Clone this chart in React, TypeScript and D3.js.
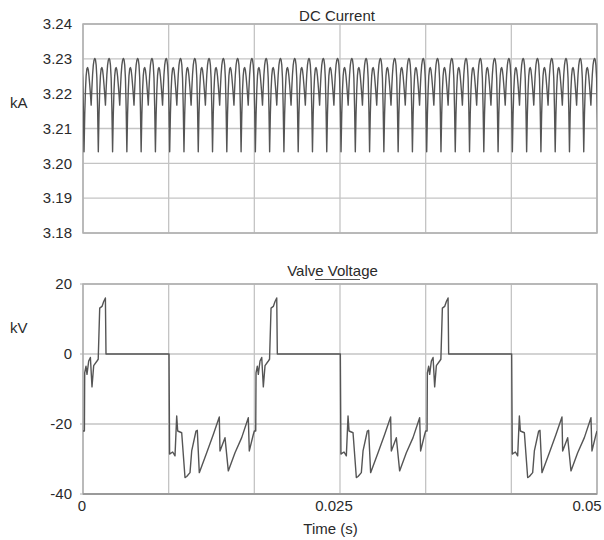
import React from "react";
import * as d3 from "d3";

// ---- Data ----
// DC current: one ripple cycle (12-pulse, 1/720 s), offset in ms from a deep dip, value in kA
const dcRippleMs = [0, 0.069, 0.139, 0.208, 0.278, 0.347, 0.417, 0.486, 0.556, 0.625, 0.694, 0.764, 0.833, 0.903, 0.972, 1.042, 1.111, 1.181, 1.25, 1.319, 1.389];
const dcRippleKA = [3.2033, 3.214, 3.221, 3.2252, 3.2271, 3.2275, 3.2268, 3.225, 3.2225, 3.2198, 3.2167, 3.2215, 3.2255, 3.2282, 3.2296, 3.2301, 3.2298, 3.2282, 3.2245, 3.216, 3.2033];
const dcRipplePeriodMs = 1000 / 720;
const dcFirstDipMs = 0.1;
const dcCycles = 37;

// Valve voltage: one fundamental cycle (1/60 s), offset in ms, value in kV
const valveCycleMs = [0, 0.136, 0.165, 0.292, 0.389, 0.554, 0.72, 0.875, 1.041, 1.362, 1.479, 1.625, 1.848, 2.014, 2.179, 2.237, 8.366, 8.424, 8.561, 8.726, 8.95, 9.115, 9.212, 9.601, 9.922, 10.088, 10.409, 10.574, 10.993, 11.119, 11.313, 12.033, 12.676, 13.259, 13.327, 13.813, 14.135, 14.786, 15.438, 16.08, 16.177, 16.567, 16.667];
const valveCycleKV = [-22, -22, -5.4, -3.5, -5.8, -2, -1, -9.4, -3.3, -2, -1.5, 13.1, 13.6, 15, 16, 0, 0, -28.6, -28.3, -28.0, -29.1, -17.7, -22, -22.5, -35.3, -35.0, -33.9, -27.7, -22, -21.8, -33.9, -28.2, -23, -18, -27.7, -23.9, -33.4, -28.2, -23.9, -18.2, -27.7, -23, -22];
const valvePeriodMs = 1000 / 60;
const valveCycles = 3;

const timeDomain = [0, 0.05];
const timeGridDivisions = 6;
const xTickValues = [0, 0.025, 0.05];
const xTickLabels = ["0", "0.025", "0.05"];

const dcDomain = [3.18, 3.24];
const dcTicks = [3.18, 3.19, 3.2, 3.21, 3.22, 3.23, 3.24];
const dcTickLabels = ["3.18", "3.19", "3.20", "3.21", "3.22", "3.23", "3.24"];

const vDomain = [-40, 20];
const vTicks = [-40, -20, 0, 20];
const vTickLabels = ["-40", "-20", "0", "20"];

const topTitle = "DC Current";
const bottomTitle = "Valve Voltage";
const topUnit = "kA";
const bottomUnit = "kV";
const xTitle = "Time (s)";

// ---- Build series ----
type Pt = [number, number];
const dcSeries: Pt[] = [];
for (let k = -1; k < dcCycles; k++) {
  dcRippleMs.forEach((ms, i) => {
    if (k > -1 && i === 0) return;
    dcSeries.push([(dcFirstDipMs + k * dcRipplePeriodMs + ms) / 1000, dcRippleKA[i]]);
  });
}
const valveSeries: Pt[] = [];
for (let c = 0; c < valveCycles; c++) {
  valveCycleMs.forEach((ms, i) => {
    if (c > 0 && i === 0) return;
    valveSeries.push([(c * valvePeriodMs + ms) / 1000, valveCycleKV[i]]);
  });
}

const FONT = "'Liberation Sans', Arial, sans-serif";
const GRID = "#c4c4c4";
const FRAME = "#b0b0b0";
const TRACE = "#555";
const TEXT = "#2a2a2a";

export default function App() {
  const left = 83, right = 597;
  const x = d3.scaleLinear().domain(timeDomain).range([left, right]);
  const yTop = d3.scaleLinear().domain(dcDomain).range([233, 24]);
  const yBot = d3.scaleLinear().domain(vDomain).range([494, 284]);

  const gridTimes = d3.range(timeGridDivisions + 1).map((i) => timeDomain[0] + (i * (timeDomain[1] - timeDomain[0])) / timeGridDivisions);

  const dcLine = d3.line<Pt>().x((d) => x(d[0])).y((d) => yTop(d[1]))(dcSeries) || "";
  const vLine = d3.line<Pt>().x((d) => x(d[0])).y((d) => yBot(d[1]))(valveSeries) || "";

  const xLabelDx = [-1, -6, -10];

  return (
    <svg width={604} height={540} style={{ position: "absolute", left: 0, top: 0, background: "#fff" }} fontFamily={FONT}>
      <defs>
        <clipPath id="clipTop">
          <rect x={left} y={yTop(dcDomain[1])} width={right - left} height={yTop(dcDomain[0]) - yTop(dcDomain[1])} />
        </clipPath>
        <clipPath id="clipBot">
          <rect x={left} y={yBot(vDomain[1]) - 1} width={right - left} height={yBot(vDomain[0]) - yBot(vDomain[1]) + 2} />
        </clipPath>
      </defs>
      <rect x={0} y={0} width={604} height={540} fill="#fff" />

      {/* Top panel */}
      <g>
        {dcTicks.map((t, i) => (
          <line key={"hg" + i} x1={left} x2={right} y1={yTop(t)} y2={yTop(t)} stroke={t === 3.22 ? "#8a8a8a" : GRID} strokeWidth={1.3} />
        ))}
        {gridTimes.map((t, i) => (
          <line key={"vg" + i} x1={x(t)} x2={x(t)} y1={yTop(dcDomain[1])} y2={yTop(dcDomain[0])} stroke={GRID} strokeWidth={1.3} />
        ))}
        <rect x={left} y={yTop(dcDomain[1])} width={right - left} height={yTop(dcDomain[0]) - yTop(dcDomain[1])} fill="none" stroke={FRAME} strokeWidth={1.5} />
        <path d={dcLine} fill="none" stroke={TRACE} strokeWidth={1.4} strokeLinejoin="round" clipPath="url(#clipTop)" />
        {dcTicks.map((t, i) => (
          <text key={"yl" + i} x={72} y={yTop(t)} dy="0.35em" textAnchor="end" fontSize={15} fill={TEXT}>
            {dcTickLabels[i]}
          </text>
        ))}
        <text x={10} y={108} fontSize={15} fill={TEXT}>{topUnit}</text>
        <text x={337} y={20.5} textAnchor="middle" fontSize={15} fill={TEXT}>{topTitle}</text>
      </g>

      {/* Bottom panel */}
      <g>
        {vTicks.map((t, i) => (
          <line key={"bhg" + i} x1={left} x2={right} y1={yBot(t)} y2={yBot(t)} stroke={GRID} strokeWidth={1.3} />
        ))}
        {gridTimes.map((t, i) => (
          <line key={"bvg" + i} x1={x(t)} x2={x(t)} y1={yBot(vDomain[1])} y2={yBot(vDomain[0])} stroke={GRID} strokeWidth={1.3} />
        ))}
        <rect x={left} y={yBot(vDomain[1])} width={right - left} height={yBot(vDomain[0]) - yBot(vDomain[1])} fill="none" stroke={FRAME} strokeWidth={1.5} />
        <line x1={left} x2={right} y1={yBot(vDomain[0])} y2={yBot(vDomain[0])} stroke="#9a9a9a" strokeWidth={2} />
        {vTicks.map((t, i) => (
          <line key={"bt" + i} x1={left - 3} x2={left} y1={yBot(t)} y2={yBot(t)} stroke={FRAME} strokeWidth={1} />
        ))}
        <path d={vLine} fill="none" stroke={TRACE} strokeWidth={1.4} strokeLinejoin="round" clipPath="url(#clipBot)" />
        {vTicks.map((t, i) => (
          <text key={"byl" + i} x={72} y={yBot(t)} dy="0.35em" textAnchor="end" fontSize={15} fill={TEXT}>
            {vTickLabels[i]}
          </text>
        ))}
        <text x={10} y={333} fontSize={15} fill={TEXT}>{bottomUnit}</text>
        <text x={332.5} y={275.5} textAnchor="middle" fontSize={15} fill={TEXT}>{bottomTitle}</text>
        <line x1={315} x2={360} y1={279.5} y2={279.5} stroke="#555" strokeWidth={1.2} />
        {xTickValues.map((t, i) => (
          <text key={"xl" + i} x={x(t) + xLabelDx[i]} y={511} textAnchor="middle" fontSize={15} fill={TEXT}>
            {xTickLabels[i]}
          </text>
        ))}
        <text x={330.5} y={533.5} textAnchor="middle" fontSize={15} fill={TEXT}>{xTitle}</text>
      </g>
    </svg>
  );
}
